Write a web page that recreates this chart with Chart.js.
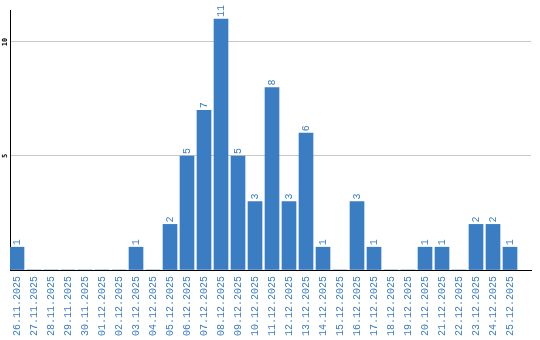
<!DOCTYPE html>
<html>
<head>
<meta charset="utf-8">
<script src="https://cdn.jsdelivr.net/npm/chart.js@4"></script>
<style>
    html, body { margin: 0; padding: 0; background: #fff; }
    #chart { display: block; }
</style>
</head>
<body>
<canvas id="chart" width="540" height="340"></canvas>
<script>
// Daily counts
const dates = [
    '26.11.2025', '27.11.2025', '28.11.2025', '29.11.2025', '30.11.2025',
    '01.12.2025', '02.12.2025', '03.12.2025', '04.12.2025', '05.12.2025',
    '06.12.2025', '07.12.2025', '08.12.2025', '09.12.2025', '10.12.2025',
    '11.12.2025', '12.12.2025', '13.12.2025', '14.12.2025', '15.12.2025',
    '16.12.2025', '17.12.2025', '18.12.2025', '19.12.2025', '20.12.2025',
    '21.12.2025', '22.12.2025', '23.12.2025', '24.12.2025', '25.12.2025'
];
const counts = [1, 0, 0, 0, 0, 0, 0, 1, 0, 2, 5, 7, 11, 5, 3, 8, 3, 6, 1, 0, 3, 1, 0, 0, 1, 1, 0, 2, 2, 1];
const yTicks = [5, 10];

const blue = '#3a7dc2';

// values on top of the bars, drawn vertically
const barLabels = {
    id: 'barLabels',
    afterDatasetsDraw(chart) {
        const ctx = chart.ctx;
        const meta = chart.getDatasetMeta(0);
        ctx.save();
        ctx.fillStyle = blue;
        ctx.font = '10px "Liberation Mono", monospace';
        ctx.textAlign = 'left';
        ctx.textBaseline = 'middle';
        meta.data.forEach((bar, i) => {
            if (!counts[i]) return;
            ctx.save();
            ctx.translate(bar.x, bar.y - 2);
            ctx.rotate(-Math.PI / 2);
            ctx.fillText(String(counts[i]), 0, 0);
            ctx.restore();
        });
        ctx.restore();
    }
};

// rotated y tick labels
const yLabels = {
    id: 'yLabels',
    afterDraw(chart) {
        const ctx = chart.ctx;
        const y = chart.scales.y;
        ctx.save();
        ctx.fillStyle = '#000';
        ctx.font = 'bold 7px "DejaVu Sans Mono", monospace';
        ctx.textAlign = 'center';
        ctx.textBaseline = 'middle';
        yTicks.forEach(t => {
            ctx.save();
            ctx.translate(5, y.getPixelForValue(t));
            ctx.rotate(-Math.PI / 2);
            ctx.fillText(String(t), 0, 0);
            ctx.restore();
        });
        ctx.restore();
    }
};

new Chart(document.getElementById('chart').getContext('2d'), {
    type: 'bar',
    data: {
        datasets: [{
            data: counts.map((v, i) => ({ x: i, y: v })),
            backgroundColor: blue,
            borderWidth: 0,
            barThickness: 14
        }]
    },
    options: {
        responsive: false,
        animation: false,
        layout: { padding: { top: 10, right: 9, left: 0, bottom: 0 } },
        plugins: {
            legend: { display: false },
            tooltip: { enabled: false }
        },
        scales: {
            x: {
                type: 'linear',
                offset: false,
                min: -0.412,
                max: 30.235,
                grid: { display: false, drawTicks: false, offset: false },
                border: { color: '#000', width: 1 },
                ticks: {
                    stepSize: 1,
                    includeBounds: false,
                    autoSkip: false,
                    minRotation: 90,
                    maxRotation: 90,
                    padding: 6,
                    color: blue,
                    font: { family: '"Liberation Mono", monospace', size: 10 },
                    callback: v => dates[v] || ''
                },
                afterFit(scale) {
                    scale.height = 70;
                    scale.paddingLeft = 0;
                    scale.paddingRight = 0;
                }
            },
            y: {
                min: 0,
                max: 11.4,
                grid: {
                    drawTicks: false,
                    color: ctx => ctx.tick && yTicks.includes(ctx.tick.value) ? '#c8c8c8' : 'rgba(0,0,0,0)'
                },
                border: { color: '#000', width: 1 },
                ticks: { display: false, stepSize: 5 },
                afterFit(scale) {
                    scale.width = 10;
                }
            }
        }
    },
    plugins: [barLabels, yLabels]
});
</script>
</body>
</html>
